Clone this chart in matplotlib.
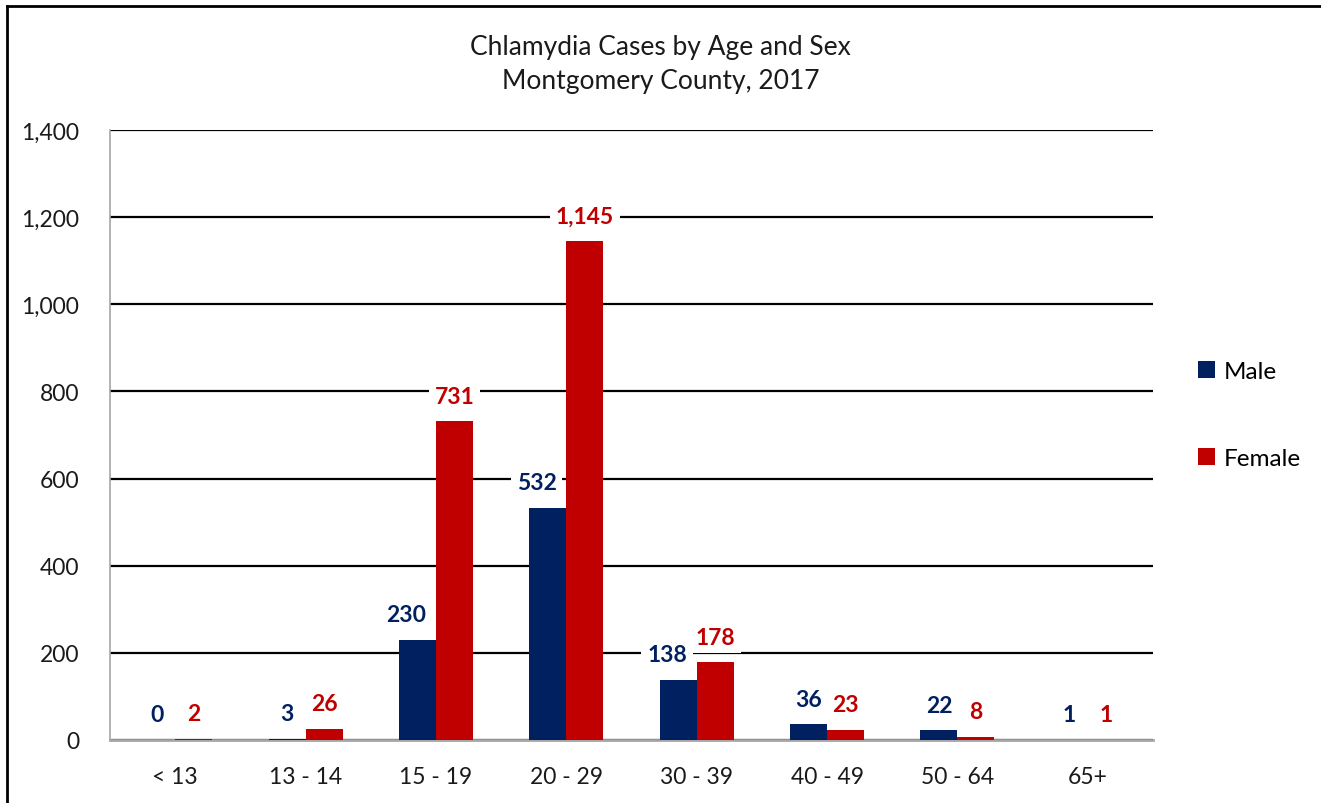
import matplotlib
matplotlib.use("Agg")
import matplotlib.pyplot as plt
import numpy as np
from matplotlib.lines import Line2D

categories = ["< 13", "13 - 14", "15 - 19", "20 - 29", "30 - 39", "40 - 49", "50 - 64", "65+"]
male = [0, 3, 230, 532, 138, 36, 22, 1]
female = [2, 26, 731, 1145, 178, 23, 8, 1]
yticks = [0, 200, 400, 600, 800, 1000, 1200, 1400]

male_color = "#002060"
female_color = "#C00000"

plt.rcParams['font.family'] = ['Lato', 'DejaVu Sans']

fig = plt.figure(figsize=(13.21, 8.04), dpi=100)
ax = fig.add_axes([110/1321, 1-741/804, (1153-110)/1321, (741-131)/804])

x = np.arange(len(categories))
w = 0.284
bm = ax.bar(x - w/2, male, w, color=male_color, label="Male", zorder=3)
bf = ax.bar(x + w/2, female, w, color=female_color, label="Female", zorder=3)

ax.set_xlim(-0.5, len(categories) - 0.5)
ax.set_ylim(0, 1400)
ax.set_yticks(yticks)
ax.set_yticklabels([f"{v:,}" for v in yticks])
ax.set_xticks(x)
ax.set_xticklabels(categories)
ax.tick_params(axis='both', length=0, labelsize=16.5, colors='#1a1a1a')
ax.tick_params(axis='y', pad=22)
ax.tick_params(axis='x', pad=19)
ax.yaxis.grid(True, color='black', linewidth=1.6, zorder=1)
ax.set_axisbelow(True)
for s in ['top', 'right']:
    ax.spines[s].set_visible(False)
ax.spines['left'].set_color('#a6a6a6')
ax.spines['left'].set_linewidth(1.2)
ax.spines['bottom'].set_color('#a6a6a6')
ax.spines['bottom'].set_linewidth(2)

bbox = dict(boxstyle='square,pad=0.25', fc='white', ec='none')

# female labels first so male labels (drawn later) sit on top where they meet
for b, v in zip(bf, female):
    t = ax.annotate(f"{v:,}", (b.get_x() + b.get_width()/2, b.get_height()), xytext=(0, 13.5),
                    textcoords='offset points', ha='center', va='baseline',
                    fontsize=16.5, fontweight='bold', color=female_color, bbox=bbox)
    t.set_zorder(2.4)

# male labels: nudge left when the neighbouring female bar would collide
for b, v, fv in zip(bm, male, female):
    if fv > v + 30:
        xpos, ha, dx = b.get_x() + b.get_width(), 'right', -7
    else:
        xpos, ha, dx = b.get_x() + b.get_width()/2, 'center', 0
    t = ax.annotate(f"{v:,}", (xpos, b.get_height()), xytext=(dx, 13.5),
                    textcoords='offset points', ha=ha, va='baseline',
                    fontsize=16.5, fontweight='bold', color=male_color, bbox=bbox)
    t.set_zorder(2.5)

fig.text(0.5, 1-47/804, "Chlamydia Cases by Age and Sex", ha='center', va='center', fontsize=19, color='#1a1a1a')
fig.text(0.5, 1-81/804, "Montgomery County, 2017", ha='center', va='center', fontsize=19, color='#1a1a1a')

leg = fig.legend(handles=[bm, bf], labels=["Male", "Female"], loc='center left',
                 bbox_to_anchor=(1186/1321, 1-416/804), frameon=False, fontsize=17.5,
                 handlelength=0.7, handleheight=0.7, labelspacing=2.75, handletextpad=0.35,
                 borderpad=0)

# outer border (left and top)
fig.add_artist(Line2D([7/1321, 7/1321], [0, 1-7/804], transform=fig.transFigure, color='black', lw=2))
fig.add_artist(Line2D([7/1321, 1], [1-7/804, 1-7/804], transform=fig.transFigure, color='black', lw=2))

fig.savefig("out.png", dpi=100, facecolor='white')
